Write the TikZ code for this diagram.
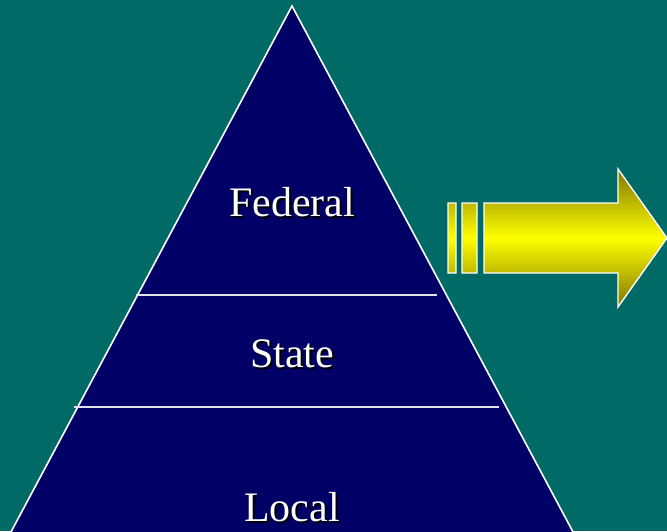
\documentclass[tikz,border=0pt]{standalone}
\usepackage{fontspec}
\setmainfont{Liberation Serif}
\usetikzlibrary{positioning,calc}
\definecolor{teal}{RGB}{0,106,102}
\definecolor{navy}{RGB}{0,0,102}
\definecolor{olivey}{RGB}{128,118,0}
\definecolor{rule}{RGB}{225,225,235}
\newcommand{\shadowed}[1]{\makebox[0pt][l]{\hspace{2pt}\raisebox{-2pt}{\color{black}#1}}#1}

\begin{document}
\begin{tikzpicture}[x=1pt, y=-1pt,
    lbl/.style={text=white, anchor=base, inner sep=0pt, font=\fontsize{42}{48}\selectfont},
    divider/.style={draw=rule, line width=1.8pt}]
        \useasboundingbox (0,0) rectangle (667,531);
        \clip (0,0) rectangle (667,531);
        \fill[teal] (0,0) rectangle (667,531);
        %pyramid
        \coordinate (apex) at (292,6);
        \coordinate (bl) at (4,545);
        \coordinate (br) at (580,545);
        \filldraw[fill=navy, draw=white, line width=1.6pt] (apex) -- (bl) -- (br) -- cycle;
        \coordinate (d1l) at (136,295);
        \coordinate (d1r) at (437,295);
        \coordinate (d2l) at (74,407);
        \coordinate (d2r) at (499,407);
        \path [divider] (d1l) -- (d1r);
        \path [divider] (d2l) -- (d2r);
        %nodes
        \node[lbl] (federal) at (292,216) {\shadowed{Federal}};
        \node[lbl] (state) at (292,367) {\shadowed{State}};
        \node[lbl] (local) at (292,521) {\shadowed{Local}};
        %arrow
        \shadedraw[draw=white, line width=1.4pt, top color=olivey, bottom color=olivey, middle color=yellow]
            (448,203) rectangle (456,273)
            (462,203) rectangle (477,273)
            (484,203) -- (618,203) -- (618,169) -- (667,238) -- (618,307) -- (618,273) -- (484,273) -- cycle;
\end{tikzpicture}
\end{document}
